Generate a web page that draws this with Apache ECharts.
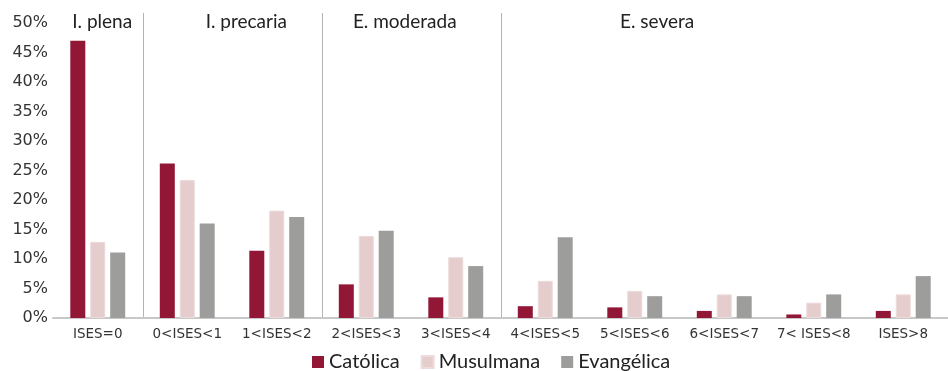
<!DOCTYPE html>
<html>
<head>
<meta charset="utf-8">
<script src="https://cdn.jsdelivr.net/npm/echarts@6/dist/echarts.min.js"></script>
<style>
  html, body { margin: 0; padding: 0; background: #fff; }
  #chart { width: 948px; height: 371px; }
</style>
</head>
<body>
<div id="chart"></div>
<script>
// ISES ranges on the horizontal axis
const categories = ['ISES=0', '0<ISES<1', '1<ISES<2', '2<ISES<3', '3<ISES<4',
  '4<ISES<5', '5<ISES<6', '6<ISES<7', '7< ISES<8', 'ISES>8'];

// Share of each religious group (%) in every ISES range
const catolica   = [47.0, 26.2, 11.4, 5.7, 3.5, 2.0, 1.8, 1.2, 0.6, 1.2];
const musulmana  = [12.9, 23.4, 18.2, 13.9, 10.3, 6.3, 4.6, 4.0, 2.6, 4.0];
const evangelica = [11.1, 16.0, 17.1, 14.8, 8.8, 13.7, 3.7, 3.7, 4.0, 7.1];

const yTicks = [0, 5, 10, 15, 20, 25, 30, 35, 40, 45, 50];

// Section headings: label, position in category units (0 = left edge of first category)
const sectionNames = ['I. plena', 'I. precaria', 'E. moderada', 'E. severa'];
const sectionPos = [0.55, 2.16, 3.93, 6.75];
// Category boundaries where a divider is drawn
const dividers = [1, 3, 5];

const FONT = 'Lato';
const AXIS_FONT = '"DejaVu Sans"';
const chart = echarts.init(document.getElementById('chart'));

chart.setOption({
  animation: false,
  textStyle: { fontFamily: FONT },
  grid: { left: 53, right: -3, top: 23, bottom: 53, containLabel: false },
  legend: {
    top: 347,
    left: 307,
    itemWidth: 12,
    itemHeight: 12,
    itemGap: 21,
    icon: 'rect',
    textStyle: { fontSize: 20, color: '#222', fontFamily: FONT },
    data: ['Católica', 'Musulmana', 'Evangélica']
  },
  xAxis: {
    type: 'category',
    data: categories,
    axisLine: { lineStyle: { color: '#c8c8c8', width: 2 } },
    axisTick: { show: false },
    axisLabel: { fontSize: 13.5, color: '#333', margin: 9, interval: 0,
                 fontFamily: AXIS_FONT }
  },
  yAxis: {
    type: 'value',
    min: yTicks[0],
    max: yTicks[yTicks.length - 1],
    interval: 5,
    axisLine: { show: false },
    axisTick: { show: false },
    splitLine: { show: false },
    axisLabel: { fontSize: 16, color: '#333', margin: 5, fontFamily: AXIS_FONT,
                 formatter: v => v + '%' }
  },
  series: [
    { name: 'Católica', type: 'bar', data: catolica, barWidth: 15, barGap: '33%',
      itemStyle: { color: '#921737' } },
    { name: 'Musulmana', type: 'bar', data: musulmana, barWidth: 15, barGap: '33%',
      itemStyle: { color: '#e6cdcd', borderColor: '#eddada', borderWidth: 1 } },
    { name: 'Evangélica', type: 'bar', data: evangelica, barWidth: 15, barGap: '33%',
      itemStyle: { color: '#9d9d9b' } }
  ]
});

// Place dividers and section headings from the category axis scale
const x0 = chart.convertToPixel({ xAxisIndex: 0 }, categories[0]);
const x1 = chart.convertToPixel({ xAxisIndex: 0 }, categories[1]);
const step = x1 - x0;
const left = x0 - step / 2;
const yBase = chart.convertToPixel({ yAxisIndex: 0 }, 0);

const elements = [];
dividers.forEach(d => {
  const x = Math.round(left + d * step) + 0.5;
  elements.push({
    type: 'line',
    shape: { x1: x, y1: 13, x2: x, y2: yBase },
    style: { stroke: '#b4b4b4', lineWidth: 1 }
  });
});
sectionNames.forEach((name, i) => {
  elements.push({
    type: 'text',
    x: left + sectionPos[i] * step,
    y: 22,
    style: { text: name, fontSize: 19, fontFamily: FONT, fill: '#222',
             align: 'center', verticalAlign: 'middle' }
  });
});
chart.setOption({ graphic: elements });
</script>
</body>
</html>
